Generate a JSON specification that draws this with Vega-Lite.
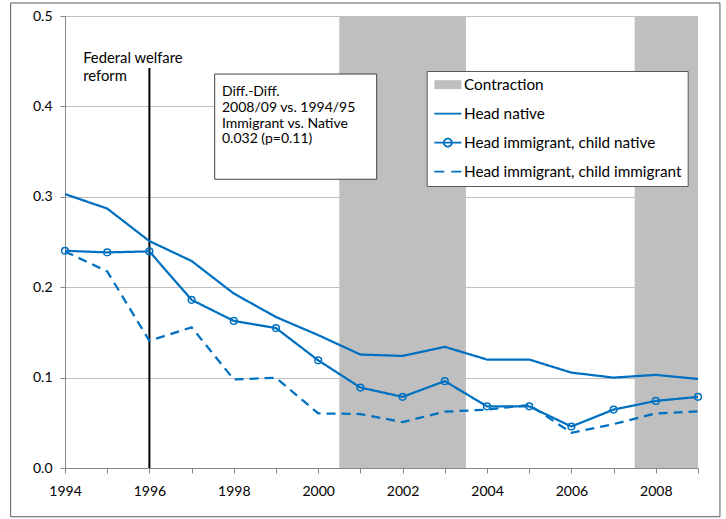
{
  "$schema": "https://vega.github.io/schema/vega-lite/v6.json",
  "width": 633,
  "height": 452,
  "autosize": "none",
  "padding": {"left": 65, "top": 16, "right": 28, "bottom": 51},
  "background": "white",
  "config": {
    "view": {"stroke": null},
    "font": "Lato",
    "axis": {"labelFont": "Lato", "labelFontSize": 14, "labelColor": "#000000", "domainColor": "#868686", "tickColor": "#868686", "tickSize": 5, "title": null}
  },
  "datasets": {
    "series": [
      {"year": 1994, "value": 0.303, "series": "Head native"},
      {"year": 1995, "value": 0.287, "series": "Head native"},
      {"year": 1996, "value": 0.251, "series": "Head native"},
      {"year": 1997, "value": 0.229, "series": "Head native"},
      {"year": 1998, "value": 0.193, "series": "Head native"},
      {"year": 1999, "value": 0.167, "series": "Head native"},
      {"year": 2000, "value": 0.147, "series": "Head native"},
      {"year": 2001, "value": 0.1255, "series": "Head native"},
      {"year": 2002, "value": 0.124, "series": "Head native"},
      {"year": 2003, "value": 0.134, "series": "Head native"},
      {"year": 2004, "value": 0.12, "series": "Head native"},
      {"year": 2005, "value": 0.12, "series": "Head native"},
      {"year": 2006, "value": 0.1055, "series": "Head native"},
      {"year": 2007, "value": 0.1, "series": "Head native"},
      {"year": 2008, "value": 0.103, "series": "Head native"},
      {"year": 2009, "value": 0.0985, "series": "Head native"},
      {"year": 1994, "value": 0.2403, "series": "Head immigrant, child native"},
      {"year": 1995, "value": 0.2385, "series": "Head immigrant, child native"},
      {"year": 1996, "value": 0.2396, "series": "Head immigrant, child native"},
      {"year": 1997, "value": 0.186, "series": "Head immigrant, child native"},
      {"year": 1998, "value": 0.1627, "series": "Head immigrant, child native"},
      {"year": 1999, "value": 0.1548, "series": "Head immigrant, child native"},
      {"year": 2000, "value": 0.1191, "series": "Head immigrant, child native"},
      {"year": 2001, "value": 0.089, "series": "Head immigrant, child native"},
      {"year": 2002, "value": 0.0787, "series": "Head immigrant, child native"},
      {"year": 2003, "value": 0.0961, "series": "Head immigrant, child native"},
      {"year": 2004, "value": 0.0682, "series": "Head immigrant, child native"},
      {"year": 2005, "value": 0.0682, "series": "Head immigrant, child native"},
      {"year": 2006, "value": 0.0459, "series": "Head immigrant, child native"},
      {"year": 2007, "value": 0.0646, "series": "Head immigrant, child native"},
      {"year": 2008, "value": 0.0742, "series": "Head immigrant, child native"},
      {"year": 2009, "value": 0.0787, "series": "Head immigrant, child native"},
      {"year": 1994, "value": 0.2395, "series": "Head immigrant, child immigrant"},
      {"year": 1995, "value": 0.2175, "series": "Head immigrant, child immigrant"},
      {"year": 1996, "value": 0.1407, "series": "Head immigrant, child immigrant"},
      {"year": 1997, "value": 0.1556, "series": "Head immigrant, child immigrant"},
      {"year": 1998, "value": 0.098, "series": "Head immigrant, child immigrant"},
      {"year": 1999, "value": 0.0998, "series": "Head immigrant, child immigrant"},
      {"year": 2000, "value": 0.0604, "series": "Head immigrant, child immigrant"},
      {"year": 2001, "value": 0.0597, "series": "Head immigrant, child immigrant"},
      {"year": 2002, "value": 0.0508, "series": "Head immigrant, child immigrant"},
      {"year": 2003, "value": 0.0623, "series": "Head immigrant, child immigrant"},
      {"year": 2004, "value": 0.0646, "series": "Head immigrant, child immigrant"},
      {"year": 2005, "value": 0.0698, "series": "Head immigrant, child immigrant"},
      {"year": 2006, "value": 0.0389, "series": "Head immigrant, child immigrant"},
      {"year": 2007, "value": 0.0486, "series": "Head immigrant, child immigrant"},
      {"year": 2008, "value": 0.0604, "series": "Head immigrant, child immigrant"},
      {"year": 2009, "value": 0.0627, "series": "Head immigrant, child immigrant"}
    ],
    "bands": [
      {"start": 2000.5, "end": 2003.5, "series": "Contraction"},
      {"start": 2007.5, "end": 2009, "series": "Contraction"}
    ]
  },
  "layer": [
    {
      "data": {"name": "bands"},
      "mark": {"type": "rect"},
      "encoding": {
        "x": {"field": "start", "type": "quantitative", "scale": {"domain": [1994, 2009], "nice": false, "zero": false},
          "axis": {"values": [1994,1995,1996,1997,1998,1999,2000,2001,2002,2003,2004,2005,2006,2007,2008,2009], "format": "d", "labelExpr": "datum.value % 2 == 0 ? datum.label : ''", "grid": false, "labelPadding": 11, "labelFlush": false, "labelOverlap": false}},
        "x2": {"field": "end"},
        "y": {"datum": 0, "type": "quantitative", "scale": {"domain": [0, 0.5], "nice": false},
          "axis": {"values": [0, 0.1, 0.2, 0.3, 0.4, 0.5], "format": ".1f", "grid": true, "gridColor": "#BFBFBF", "labelPadding": 8}},
        "y2": {"datum": 0.5},
        "color": {"field": "series", "type": "nominal",
          "scale": {"domain": ["Contraction", "Head native", "Head immigrant, child native", "Head immigrant, child immigrant"], "range": ["#BFBFBF", "#0070C0", "#0070C0", "#0070C0"]},
          "legend": {"title": null, "orient": "none", "legendX": 361.7, "legendY": 55, "padding": 6, "rowPadding": 13, "symbolSize": 196, "symbolStrokeWidth": 2, "labelFontSize": 15.3, "labelFont": "Lato", "labelColor": "#000000", "strokeColor": "#595959", "fillColor": "#ffffff", "labelOffset": 16, "labelLimit": 400,
            "encode": {"symbols": {"update": {
              "shape": {"signal": "datum.value === 'Contraction' ? 'M-0.86,-0.64H3V0.64H-0.86Z' : datum.value === 'Head immigrant, child native' ? 'M-0.86,0H3M1.64,0C1.64,0.3148 1.3848,0.57 1.07,0.57C0.7552,0.57 0.5,0.3148 0.5,0C0.5,-0.3148 0.7552,-0.57 1.07,-0.57C1.3848,-0.57 1.64,-0.3148 1.64,0Z' : 'M-0.86,0H3'"},
              "fill": {"signal": "datum.value === 'Contraction' ? '#BFBFBF' : '#ffffff'"},
              "fillOpacity": {"signal": "datum.value === 'Contraction' ? 1 : 0"},
              "stroke": {"signal": "datum.value === 'Contraction' ? 'transparent' : '#0070C0'"},
              "strokeOpacity": {"value": 1},
              "strokeDash": {"signal": "datum.value === 'Head immigrant, child immigrant' ? [10, 7] : [1, 0]"},
              "strokeWidth": {"signal": "datum.value === 'Contraction' ? 0 : 1.8"},
              "opacity": {"value": 1}
            }}}}
        }
      }
    },
    {
      "data": {"values": [{}]},
      "mark": {"type": "rule", "color": "#000000", "strokeWidth": 2},
      "encoding": {
        "x": {"datum": 1996, "type": "quantitative", "scale": {"domain": [1994, 2009], "nice": false, "zero": false}},
        "y": {"datum": 0, "type": "quantitative", "scale": {"domain": [0, 0.5], "nice": false}},
        "y2": {"datum": 0.4425}
      }
    },
    {
      "data": {"values": [{}]},
      "mark": {"type": "rect", "fill": "#ffffff", "stroke": "#404040", "strokeWidth": 1},
      "encoding": {
        "x": {"datum": 1997.547, "type": "quantitative", "scale": {"domain": [1994, 2009], "nice": false, "zero": false}},
        "x2": {"datum": 2001.386},
        "y": {"datum": 0.3194, "type": "quantitative", "scale": {"domain": [0, 0.5], "nice": false}},
        "y2": {"datum": 0.4358}
      }
    },
    {
      "data": {"values": [{}]},
      "mark": {"type": "text", "align": "left", "baseline": "alphabetic", "fontSize": 14, "lineHeight": 15.6, "font": "Lato", "color": "#000000"},
      "encoding": {
        "x": {"datum": 1997.72, "type": "quantitative", "scale": {"domain": [1994, 2009], "nice": false, "zero": false}},
        "y": {"datum": 0.411, "type": "quantitative", "scale": {"domain": [0, 0.5], "nice": false}},
        "text": {"value": ["Diff.-Diff.", "2008/09 vs. 1994/95", "Immigrant vs. Native", "0.032 (p=0.11)"]}
      }
    },
    {
      "data": {"values": [{}]},
      "mark": {"type": "text", "align": "left", "baseline": "alphabetic", "fontSize": 14.8, "lineHeight": 18.7, "font": "Lato", "color": "#000000"},
      "encoding": {
        "x": {"datum": 1994.43, "type": "quantitative", "scale": {"domain": [1994, 2009], "nice": false, "zero": false}},
        "y": {"datum": 0.4483, "type": "quantitative", "scale": {"domain": [0, 0.5], "nice": false}},
        "text": {"value": ["Federal welfare", "reform"]}
      }
    },
    {
      "data": {"name": "series"},
      "mark": {"type": "line", "strokeWidth": 2.25},
      "encoding": {
        "x": {"field": "year", "type": "quantitative", "scale": {"domain": [1994, 2009], "nice": false, "zero": false}},
        "y": {"field": "value", "type": "quantitative", "scale": {"domain": [0, 0.5], "nice": false}},
        "color": {"field": "series", "type": "nominal",
          "scale": {"domain": ["Contraction", "Head native", "Head immigrant, child native", "Head immigrant, child immigrant"], "range": ["#BFBFBF", "#0070C0", "#0070C0", "#0070C0"]}},
        "strokeDash": {"field": "series", "type": "nominal",
          "scale": {"domain": ["Head native", "Head immigrant, child native", "Head immigrant, child immigrant"], "range": [[1, 0], [1, 0], [9, 6]]}, "legend": null}
      }
    },
    {
      "data": {"name": "series"},
      "transform": [{"filter": "datum.series === 'Head immigrant, child native'"}],
      "mark": {"type": "point", "shape": "circle", "filled": false, "size": 45, "strokeWidth": 1.5, "color": "#0070C0", "opacity": 1},
      "encoding": {
        "x": {"field": "year", "type": "quantitative", "scale": {"domain": [1994, 2009], "nice": false, "zero": false}},
        "y": {"field": "value", "type": "quantitative", "scale": {"domain": [0, 0.5], "nice": false}}
      }
    },
    {
      "data": {"values": [{}]},
      "mark": {"type": "rect", "fill": "transparent", "stroke": "#595959", "strokeWidth": 1, "clip": false},
      "encoding": {
        "x": {"datum": 1992.713, "type": "quantitative", "scale": {"domain": [1994, 2009], "nice": false, "zero": false}},
        "x2": {"datum": 2009.52},
        "y": {"datum": 0.5144, "type": "quantitative", "scale": {"domain": [0, 0.5], "nice": false}},
        "y2": {"datum": -0.0539}
      }
    }
  ]
}
